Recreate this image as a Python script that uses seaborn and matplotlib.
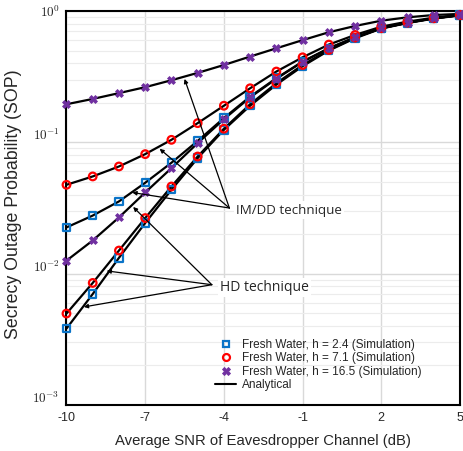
import numpy as np
import pandas as pd
import matplotlib
matplotlib.use("Agg")
import matplotlib.pyplot as plt
import seaborn as sns
from matplotlib.lines import Line2D
from matplotlib.transforms import ScaledTranslation

# ---- data ----
snr = [-10, -9, -8, -7, -6, -5, -4, -3, -2, -1, 0, 1, 2, 3, 4, 5]

imdd_h24 = [0.0225, 0.0277, 0.0355, 0.0492, 0.0699, 0.1025, 0.153, 0.223, 0.308, 0.412, 0.52, 0.63, 0.738, 0.815, 0.88, 0.93]
imdd_h71 = [0.0475, 0.055, 0.0655, 0.0813, 0.1045, 0.140, 0.19, 0.258, 0.346, 0.444, 0.555, 0.657, 0.76, 0.83, 0.889, 0.93]
imdd_h165 = [0.195, 0.214, 0.237, 0.263, 0.297, 0.338, 0.388, 0.45, 0.52, 0.60, 0.689, 0.769, 0.844, 0.895, 0.932, 0.95]

hd_h24 = [0.00382, 0.007, 0.0132, 0.0243, 0.0435, 0.0758, 0.1245, 0.19, 0.275, 0.38, 0.50, 0.62, 0.735, 0.81, 0.875, 0.925]
hd_h71 = [0.00497, 0.0085, 0.015, 0.0265, 0.0461, 0.078, 0.127, 0.195, 0.282, 0.388, 0.505, 0.627, 0.74, 0.815, 0.88, 0.93]
hd_h165 = [0.01256, 0.0179, 0.0268, 0.0415, 0.0636, 0.0986, 0.15, 0.22, 0.305, 0.41, 0.52, 0.63, 0.74, 0.815, 0.88, 0.93]

legend_labels = ["Fresh Water, h = 2.4 (Simulation)",
                 "Fresh Water, h = 7.1 (Simulation)",
                 "Fresh Water, h = 16.5 (Simulation)",
                 "Analytical"]
x_ticks = [-10, -7, -4, -1, 2, 5]
y_ticks = [1e-3, 1e-2, 1e-1, 1e0]

BLUE = "#0a74c8"
RED = "#ff0000"
PURPLE = "#7030a0"

sns.set_style("white")
plt.rcParams['font.family'] = ['Liberation Sans', 'DejaVu Sans']
plt.rcParams['mathtext.fontset'] = 'cm'

fig = plt.figure(figsize=(4.63, 4.51), dpi=100)
ax = fig.add_axes([0.1436, 0.102, 0.8499, 0.8736])

series = [
    (imdd_h24, 'h24'), (imdd_h71, 'h71'), (imdd_h165, 'h165'),
    (hd_h24, 'h24'), (hd_h71, 'h71'), (hd_h165, 'h165'),
]

for vals, key in series:
    df = pd.DataFrame({'snr': snr, 'sop': vals})
    sns.lineplot(data=df, x='snr', y='sop', ax=ax, color='black', lw=1.6, zorder=3)

for vals, key in series:
    df = pd.DataFrame({'snr': snr, 'sop': vals})
    if key == 'h24':
        sns.scatterplot(data=df, x='snr', y='sop', ax=ax, marker='s', s=28,
                        facecolor='none', edgecolor=BLUE, linewidth=1.6, zorder=4, clip_on=False)
    elif key == 'h71':
        sns.scatterplot(data=df, x='snr', y='sop', ax=ax, marker='o', s=30,
                        facecolor='none', edgecolor=RED, linewidth=1.6, zorder=5, clip_on=False)
    else:
        sns.scatterplot(data=df, x='snr', y='sop', ax=ax, marker='X', s=32,
                        color=PURPLE, edgecolor=PURPLE, linewidth=0.6, zorder=6, clip_on=False)

ax.set_yscale('log')
ax.set_xlim(-10, 5)
ax.set_ylim(1e-3, 1)
ax.set_xticks(x_ticks)
ax.set_xticklabels([str(t) for t in x_ticks], fontsize=9)
ax.set_yticks(y_ticks)
ax.set_yticklabels([r'$10^{-3}$', r'$10^{-2}$', r'$10^{-1}$', r'$10^{0}$'], fontsize=9.5)
ax.tick_params(axis='both', length=0, pad=5)
ax.yaxis.set_minor_locator(matplotlib.ticker.LogLocator(base=10, subs=np.arange(2, 10)))
ax.yaxis.set_minor_formatter(matplotlib.ticker.NullFormatter())
ax.tick_params(axis='y', which='minor', length=0)

ax.grid(True, which='major', color='#d9d9d9', lw=1.0, zorder=0)
ax.grid(True, which='minor', axis='y', color='#ececec', lw=0.8, zorder=0)
ax.set_axisbelow(True)

for lab in ax.get_yticklabels()[:3]:
    lab.set_transform(lab.get_transform() + ScaledTranslation(0, 6 / 72, fig.dpi_scale_trans))

for s in ax.spines.values():
    s.set_color('black')
    s.set_linewidth(1.5)

ax.set_xlabel('Average SNR of Eavesdropper Channel (dB)', fontsize=10.7, labelpad=7)
ax.set_ylabel('Secrecy Outage Probability (SOP)', fontsize=12.8)
ax.yaxis.set_label_coords(-0.112, 0.51)

# annotations
arrowkw = dict(arrowstyle='-|>', color='black', lw=0.9, mutation_scale=6, shrinkA=0, shrinkB=0)
imdd_src = (-3.79, 0.0316)
for tgt in [(-5.5, 0.304), (-6.45, 0.0893), (-7.49, 0.0415)]:
    ax.annotate('', xy=tgt, xytext=imdd_src, arrowprops=arrowkw, zorder=7)
ax.text(-3.55, 0.0305, 'IM/DD technique', fontsize=9.6, family='Open Sans', va='center', ha='left',
        bbox=dict(facecolor='white', edgecolor='none', pad=1.5), zorder=7)

hd_src = (-4.46, 0.00824)
for tgt in [(-7.46, 0.0322), (-8.47, 0.0105), (-9.34, 0.00558)]:
    ax.annotate('', xy=tgt, xytext=hd_src, arrowprops=arrowkw, zorder=7)
ax.text(-4.15, 0.0079, 'HD technique', fontsize=10, family='Open Sans', va='center', ha='left',
        bbox=dict(facecolor='white', edgecolor='none', pad=1.5), zorder=7)

handles = [
    Line2D([], [], ls='none', marker='s', ms=5, mfc='none', mec=BLUE, mew=1.6),
    Line2D([], [], ls='none', marker='o', ms=5, mfc='none', mec=RED, mew=1.6),
    Line2D([], [], ls='none', marker='X', ms=5.5, mfc=PURPLE, mec=PURPLE, mew=0.6),
    Line2D([], [], color='black', lw=1.5),
]
leg = ax.legend(handles, legend_labels, loc='lower left', bbox_to_anchor=(0.378, 0.035),
                frameon=False, fontsize=8.5, handlelength=1.8, handletextpad=0.5,
                labelspacing=0.12, borderaxespad=0.0, borderpad=0.0)

fig.savefig('out.png', dpi=100)
